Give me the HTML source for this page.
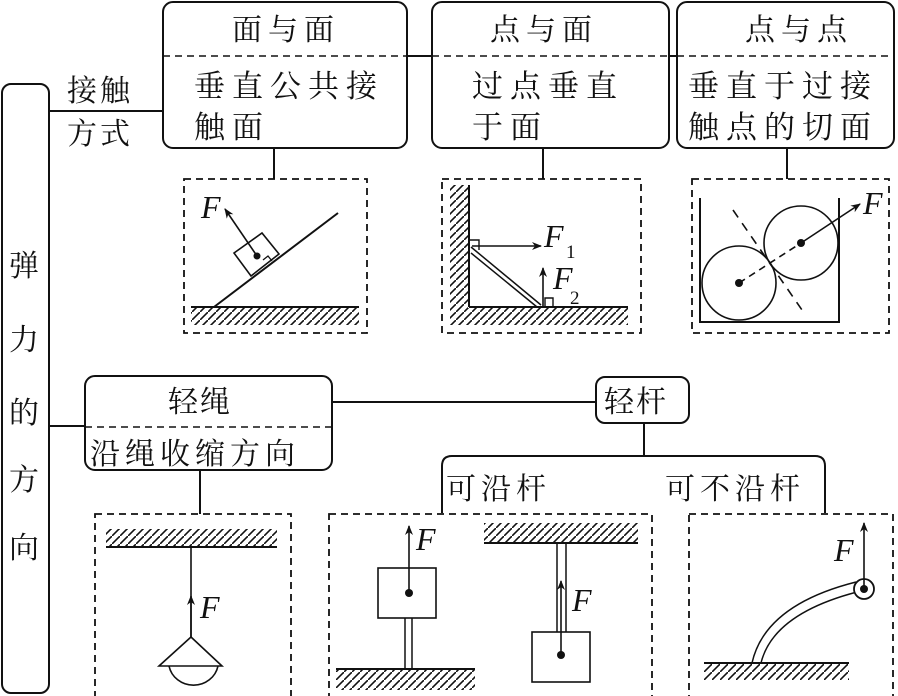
<!DOCTYPE html>
<html><head><meta charset="utf-8"><style>
body{margin:0;background:#fff}
svg{display:block}
.t{font-family:"Liberation Serif","Noto Serif CJK SC","Noto Sans CJK SC",serif;font-size:30px;fill:#111}
.f{font-family:"Liberation Serif",serif;font-style:italic;font-size:32px;fill:#111}
.s{font-family:"Liberation Serif",serif;font-size:19px;fill:#111}
</style></head><body>
<svg width="898" height="696" viewBox="0 0 898 696" xmlns="http://www.w3.org/2000/svg">
<defs>
<pattern id="h" width="8" height="8" patternUnits="userSpaceOnUse">
<path d="M-2,10 L10,-2" stroke="#111" stroke-width="1.6"/>
</pattern>
<marker id="a" markerWidth="10" markerHeight="8" refX="9" refY="4" orient="auto" markerUnits="userSpaceOnUse">
<path d="M0,0 L10,4 L0,8 L3,4 Z" fill="#111"/>
</marker>
</defs>
<g fill="none" stroke="#111" stroke-width="2">
<rect x="2" y="84" width="47" height="609" rx="9"/>
<line x1="49" y1="111" x2="163" y2="111"/>
<line x1="49" y1="426" x2="85" y2="426"/>
<rect x="163" y="2" width="244" height="146" rx="10"/>
<rect x="432" y="2" width="237" height="146" rx="10"/>
<rect x="677" y="2" width="217" height="146" rx="10"/>
<line x1="407" y1="56" x2="432" y2="56"/><line x1="669" y1="56" x2="677" y2="56"/>
<g stroke-dasharray="7,5" stroke-width="1.6">
<line x1="163" y1="56" x2="407" y2="56"/><line x1="432" y1="56" x2="669" y2="56"/><line x1="677" y1="56" x2="894" y2="56"/>
</g>
<line x1="274" y1="148" x2="274" y2="179"/>
<line x1="543" y1="148" x2="543" y2="179"/>
<line x1="787" y1="148" x2="787" y2="179"/>
<rect x="85" y="376" width="247" height="94" rx="10"/>
<line x1="85" y1="427" x2="332" y2="427" stroke-dasharray="7,5" stroke-width="1.6"/>
<line x1="332" y1="402" x2="596" y2="402"/>
<rect x="596" y="377" width="93" height="46" rx="9"/>
<line x1="644" y1="423" x2="644" y2="456"/>
<path d="M442,513 V466 Q442,456 452,456 H815 Q825,456 825,466 V513"/>
<line x1="200" y1="470" x2="200" y2="514"/>
<g stroke-dasharray="7,5" stroke-width="1.8">
<rect x="184" y="179" width="183" height="154"/>
<rect x="442" y="179" width="199" height="154"/>
<rect x="692" y="179" width="197" height="154"/>
<rect x="95" y="514" width="196" height="190"/>
<rect x="329" y="514" width="323" height="190"/>
<rect x="689" y="514" width="204" height="190"/>
</g>
</g>
<g fill="url(#h)">
<rect x="191" y="308" width="168" height="17"/>
<rect x="450" y="308" width="178" height="17"/>
<rect x="450" y="185" width="18" height="123"/>
<rect x="106" y="529" width="171" height="18"/>
<rect x="336" y="670" width="139" height="20"/>
<rect x="484" y="523" width="154" height="20"/>
<rect x="704" y="664" width="145" height="16"/>
</g>
<g fill="none" stroke="#111" stroke-width="2">
<line x1="191" y1="307" x2="359" y2="307"/>
<line x1="214" y1="307" x2="338" y2="213"/>
<path d="M234,253 L262,233 L279,254 L251,276 Z" stroke-width="1.6"/>
<path d="M263,260 l5,-4 l4,5" stroke-width="1.3"/>
<line x1="257" y1="256" x2="225" y2="209" stroke-width="1.6" marker-end="url(#a)"/>
<line x1="469" y1="185" x2="469" y2="307"/>
<line x1="469" y1="307" x2="628" y2="307"/>
<line x1="471" y1="247" x2="541" y2="305" stroke-width="1.5"/>
<line x1="471" y1="253" x2="537" y2="307" stroke-width="1.5"/>
<path d="M469,240 h10 v10" stroke-width="1.4"/>
<line x1="472" y1="246" x2="541" y2="246" stroke-width="1.6" marker-end="url(#a)"/>
<line x1="543" y1="307" x2="543" y2="268" stroke-width="1.6" marker-end="url(#a)"/>
<path d="M545,307 v-9 h8 v9" stroke-width="1.4"/>
<path d="M700,198 V322 H839 V198"/>
<circle cx="739" cy="283" r="37" stroke-width="1.6"/>
<circle cx="801" cy="243" r="37" stroke-width="1.6"/>
<line x1="739" y1="283" x2="801" y2="243" stroke-dasharray="7,5" stroke-width="1.6"/>
<line x1="801" y1="243" x2="860" y2="204" stroke-width="1.6" marker-end="url(#a)"/>
<line x1="733" y1="210" x2="802" y2="310" stroke-dasharray="9,7" stroke-width="1.6"/>
<line x1="106" y1="547" x2="277" y2="547"/>
<line x1="191" y1="637" x2="191" y2="547" stroke-width="1.6"/>
<line x1="191" y1="637" x2="191" y2="596" stroke-width="1.6" marker-end="url(#a)"/>
<path d="M191,637 L159,666 H222 Z" stroke-width="1.6"/>
<path d="M169,666 A25,24 0 0 0 218,666" stroke-width="1.6"/>
<line x1="336" y1="669" x2="475" y2="669"/>
<rect x="378" y="568" width="58" height="50" stroke-width="1.6"/>
<line x1="405" y1="618" x2="405" y2="669" stroke-width="1.5"/>
<line x1="412" y1="618" x2="412" y2="669" stroke-width="1.5"/>
<line x1="409" y1="593" x2="409" y2="526" stroke-width="1.6" marker-end="url(#a)"/>
<line x1="484" y1="543" x2="638" y2="543"/>
<line x1="557" y1="543" x2="557" y2="632" stroke-width="1.5"/>
<line x1="566" y1="543" x2="566" y2="632" stroke-width="1.5"/>
<rect x="532" y="632" width="58" height="50" stroke-width="1.6"/>
<line x1="561" y1="655" x2="561" y2="581" stroke-width="1.6" marker-end="url(#a)"/>
<line x1="704" y1="663" x2="849" y2="663"/>
<path d="M752,663 Q765,605 856,582" stroke-width="1.5"/>
<path d="M761,663 Q773,614 857,592" stroke-width="1.5"/>
<circle cx="864" cy="589" r="10" stroke-width="1.8" fill="#fff"/>
<line x1="864" y1="589" x2="864" y2="523" stroke-width="1.6" marker-end="url(#a)"/>
</g>
<g fill="#111">
<circle cx="257" cy="256" r="3.5"/>
<circle cx="739" cy="283" r="4"/><circle cx="801" cy="243" r="4"/>
<circle cx="409" cy="593" r="4"/><circle cx="561" cy="655" r="4"/>
<circle cx="864" cy="589" r="4"/>
</g>
<text class="f" x="201" y="218">F</text>
<text class="f" x="544" y="247">F</text><text class="s" x="566" y="258">1</text>
<text class="f" x="553" y="289">F</text><text class="s" x="570" y="304">2</text>
<text class="f" x="863" y="214">F</text>
<text class="f" x="200" y="618">F</text>
<text class="f" x="416" y="550">F</text>
<text class="f" x="572" y="611">F</text>
<text class="f" x="834" y="561">F</text>
<g class="t">
<text x="24" y="276" text-anchor="middle">弹</text>
<text x="24" y="350" text-anchor="middle">力</text>
<text x="24" y="423" text-anchor="middle">的</text>
<text x="24" y="490" text-anchor="middle">方</text>
<text x="24" y="558" text-anchor="middle">向</text>
<text x="67" y="101" letter-spacing="3">接触</text>
<text x="67" y="144" letter-spacing="3">方式</text>
<text x="232" y="40" letter-spacing="6">面与面</text>
<text x="194" y="97" letter-spacing="7" font-size="31">垂直公共接</text>
<text x="194" y="138" letter-spacing="7" font-size="31">触面</text>
<text x="490" y="40" letter-spacing="6">点与面</text>
<text x="472" y="97" letter-spacing="7" font-size="31">过点垂直</text>
<text x="472" y="138" letter-spacing="7" font-size="31">于面</text>
<text x="745" y="40" letter-spacing="6">点与点</text>
<text x="688" y="97" letter-spacing="7" font-size="31">垂直于过接</text>
<text x="688" y="138" letter-spacing="7" font-size="31">触点的切面</text>
<text x="168" y="412" letter-spacing="2">轻绳</text>
<text x="90" y="464" letter-spacing="5">沿绳收缩方向</text>
<text x="604" y="412" letter-spacing="2">轻杆</text>
<text x="446" y="499" letter-spacing="5">可沿杆</text>
<text x="665" y="499" letter-spacing="5">可不沿杆</text>
</g>
</svg>
</body></html>
